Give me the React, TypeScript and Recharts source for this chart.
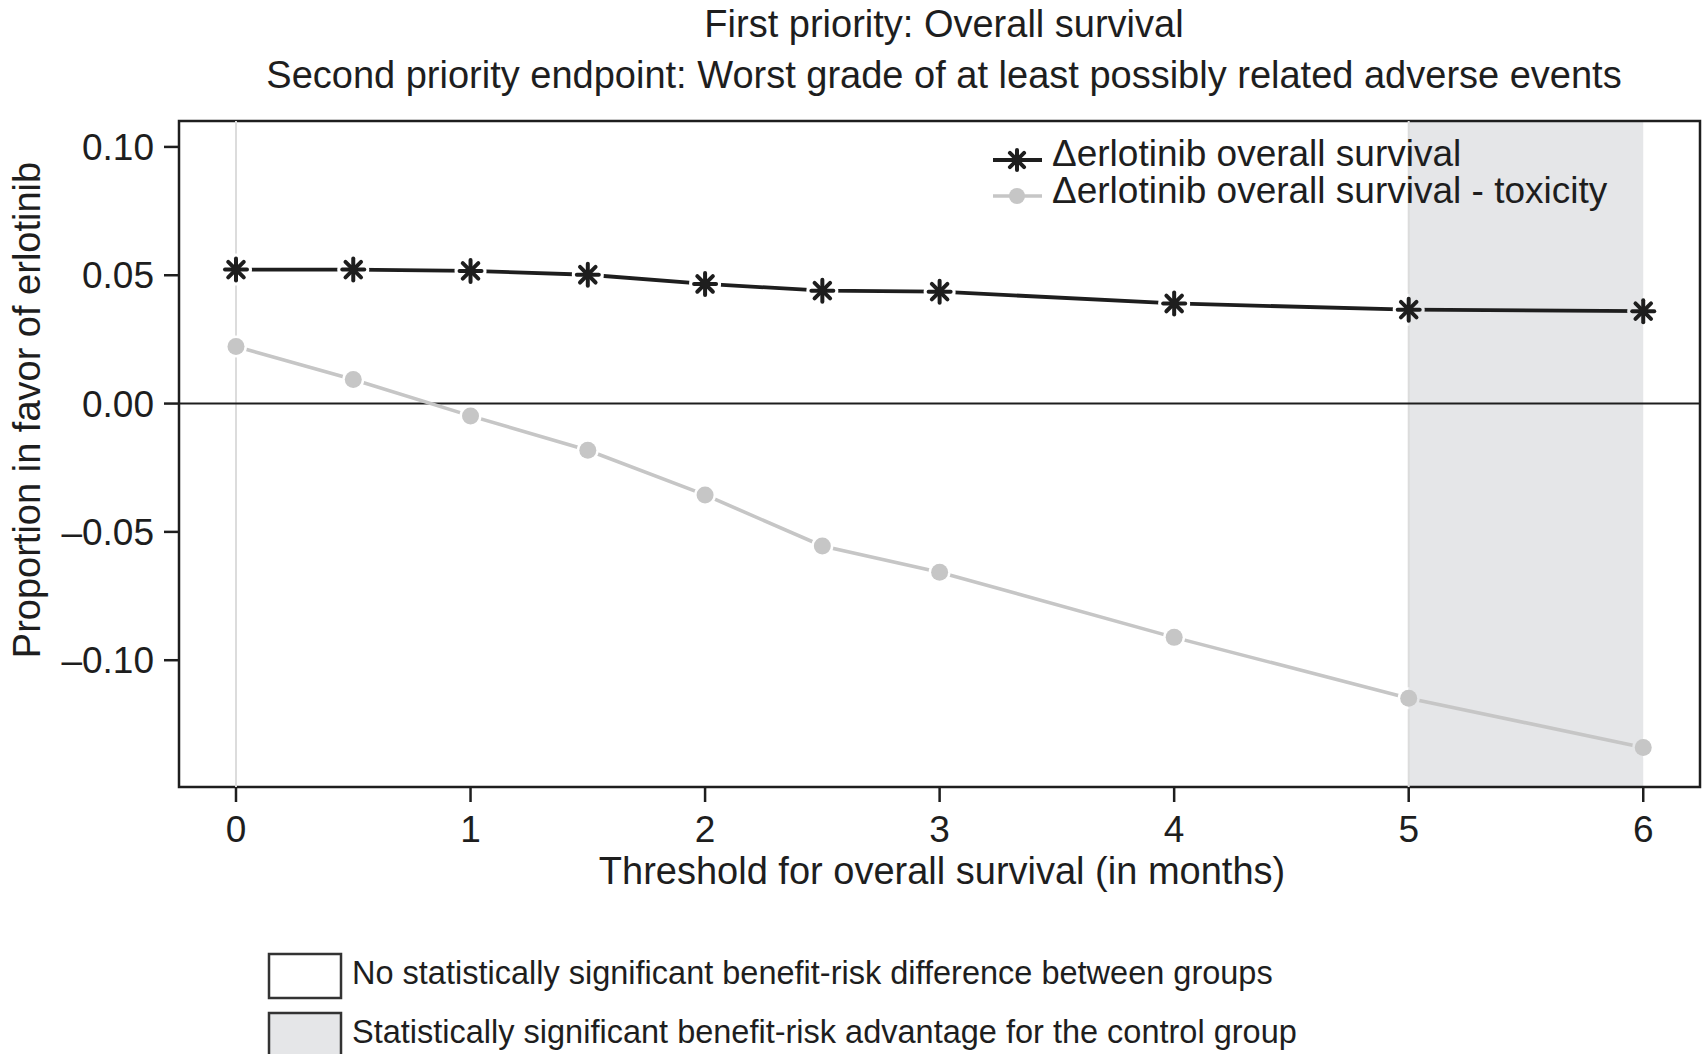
import { LineChart, Line, XAxis, YAxis, ReferenceArea, ReferenceLine } from 'recharts'

// thresholds in months and the two benefit-risk curves
const thresholds = [0, 0.5, 1, 1.5, 2, 2.5, 3, 4, 5, 6]
const survival = [0.0522, 0.0522, 0.0517, 0.0502, 0.0466, 0.044, 0.0436, 0.039, 0.0366, 0.036]
const survivalToxicity = [0.0222, 0.0094, -0.0048, -0.0182, -0.0356, -0.0555, -0.0657, -0.0911, -0.1148, -0.134]

const xTicks = [0, 1, 2, 3, 4, 5, 6]
const yTicks = [-0.1, -0.05, 0, 0.05, 0.1]
const xDomain: [number, number] = [-0.243, 6.242]
const yDomain: [number, number] = [-0.1494, 0.1101]

// significant region for the control group
const shadeFrom = 5
const shadeTo = 6

const titleLines = [
  'First priority: Overall survival',
  'Second priority endpoint: Worst grade of at least possibly related adverse events',
]
const seriesNames = ['\u0394erlotinib overall survival', '\u0394erlotinib overall survival - toxicity']
const regionNames = [
  'No statistically significant benefit-risk difference between groups',
  'Statistically significant benefit-risk advantage for the control group',
]
const xLabel = 'Threshold for overall survival (in months)'
const yLabel = 'Proportion in favor of erlotinib'

const data = thresholds.map((t, i) => ({ t, os: survival[i], ost: survivalToxicity[i] }))

const FONT = '"Liberation Sans", Arial, Helvetica, sans-serif'
const INK = '#1e1e1e'
const SHADE = '#e5e6e8'
const GREY = '#c6c6c6'

const inShade = (x: number) => x >= shadeFrom && x <= shadeTo

const halo = (cx: number, cy: number, t: number, r: number) => {
  const left = inShade(t - 0.01) ? SHADE : '#ffffff'
  const right = inShade(t + 0.01) ? SHADE : '#ffffff'
  return (
    <>
      <path d={`M${cx},${cy - r} A${r},${r} 0 0 0 ${cx},${cy + r} Z`} fill={left} />
      <path d={`M${cx},${cy - r} A${r},${r} 0 0 1 ${cx},${cy + r} Z`} fill={right} />
    </>
  )
}

const Asterisk = ({ cx, cy, size = 11, color = INK }: { cx: number; cy: number; size?: number; color?: string }) => (
  <g>
    {[0, 45, 90, 135].map((a) => {
      const dx = Math.cos((a * Math.PI) / 180) * size
      const dy = Math.sin((a * Math.PI) / 180) * size
      return (
        <line
          key={a}
          x1={cx - dx}
          y1={cy - dy}
          x2={cx + dx}
          y2={cy + dy}
          stroke={color}
          strokeWidth={4}
          strokeLinecap="round"
        />
      )
    })}
    <circle cx={cx} cy={cy} r={4.5} fill={color} />
  </g>
)

const StarDot = (props: any) => {
  const { cx, cy, payload, index } = props
  if (cx == null || cy == null) return <g key={index} />
  return (
    <g key={index}>
      {halo(cx, cy, payload.t, 16)}
      <Asterisk cx={cx} cy={cy} />
    </g>
  )
}

const CircleDot = (props: any) => {
  const { cx, cy, payload, index } = props
  if (cx == null || cy == null) return <g key={index} />
  return (
    <g key={index}>
      {halo(cx, cy, payload.t, 11)}
      <circle cx={cx} cy={cy} r={8.5} fill={GREY} />
    </g>
  )
}

const fmtY = (v: number) => (v < 0 ? '\u2013' : '') + Math.abs(v).toFixed(2)

export default function App() {
  return (
    <div style={{ position: 'absolute', left: 0, top: 0, width: 1703, height: 1054, background: '#fff' }}>
      <LineChart width={1703} height={1054} data={data} margin={{ top: 121, right: 3, bottom: 0, left: 0 }}>
        <ReferenceArea x1={shadeFrom} x2={shadeTo} y1={yDomain[0]} y2={yDomain[1]} fill={SHADE} fillOpacity={1} stroke="none" />
        <ReferenceLine x={0} stroke="#dcdcdc" strokeWidth={2} />
        <ReferenceLine x={shadeFrom} stroke="#dcdcdc" strokeWidth={2} />
        <ReferenceLine y={0} stroke={INK} strokeWidth={2} />
        <XAxis
          dataKey="t"
          type="number"
          domain={xDomain}
          ticks={xTicks}
          allowDataOverflow
          height={267}
          axisLine={false}
          tickSize={15}
          tickMargin={14}
          tickLine={{ stroke: INK, strokeWidth: 2.5 }}
          tick={{ fontSize: 37, fill: INK, fontFamily: FONT }}
        />
        <YAxis
          type="number"
          domain={yDomain}
          ticks={yTicks}
          allowDataOverflow
          width={179}
          axisLine={false}
          tickSize={15}
          tickMargin={10}
          tickFormatter={fmtY}
          tickLine={{ stroke: INK, strokeWidth: 2.5 }}
          tick={{ fontSize: 37, fill: INK, fontFamily: FONT }}
        />
        <Line
          dataKey="ost"
          stroke={GREY}
          strokeWidth={3.6}
          dot={<CircleDot />}
          activeDot={false}
          isAnimationActive={false}
        />
        <Line
          dataKey="os"
          stroke={INK}
          strokeWidth={3.8}
          dot={<StarDot />}
          activeDot={false}
          isAnimationActive={false}
        />
        <ReferenceArea
          x1={xDomain[0]}
          x2={xDomain[1]}
          y1={yDomain[0]}
          y2={yDomain[1]}
          fill="none"
          stroke={INK}
          strokeWidth={2.5}
        />
      </LineChart>

      <svg
        width={1703}
        height={1054}
        style={{ position: 'absolute', left: 0, top: 0, pointerEvents: 'none' }}
        fontFamily={FONT}
        fill={INK}
      >
        <text x={944} y={37} fontSize={38} textAnchor="middle">{titleLines[0]}</text>
        <text x={944} y={88} fontSize={38} textAnchor="middle">{titleLines[1]}</text>

        <text x={942} y={884} fontSize={38} textAnchor="middle">{xLabel}</text>
        <text x={40} y={410} fontSize={38} textAnchor="middle" transform="rotate(-90 40 410)">{yLabel}</text>

        {/* legend inside the plot */}
        <line x1={993} y1={160} x2={1042} y2={160} stroke={INK} strokeWidth={3.8} />
        <Asterisk cx={1017} cy={160} size={10} />
        <text x={1052} y={166} fontSize={37}>{seriesNames[0]}</text>
        <line x1={993} y1={196} x2={1042} y2={196} stroke={GREY} strokeWidth={3.6} />
        <circle cx={1017} cy={196} r={8} fill={GREY} />
        <text x={1052} y={203} fontSize={37}>{seriesNames[1]}</text>

        {/* region key below the chart */}
        <rect x={269} y={954} width={72} height={44} fill="#fff" stroke="#333" strokeWidth={2.5} />
        <text x={352} y={984} fontSize={32.5}>{regionNames[0]}</text>
        <rect x={269} y={1013} width={72} height={44} fill={SHADE} stroke="#333" strokeWidth={2.5} />
        <text x={352} y={1043} fontSize={32.5}>{regionNames[1]}</text>
      </svg>
    </div>
  )
}
